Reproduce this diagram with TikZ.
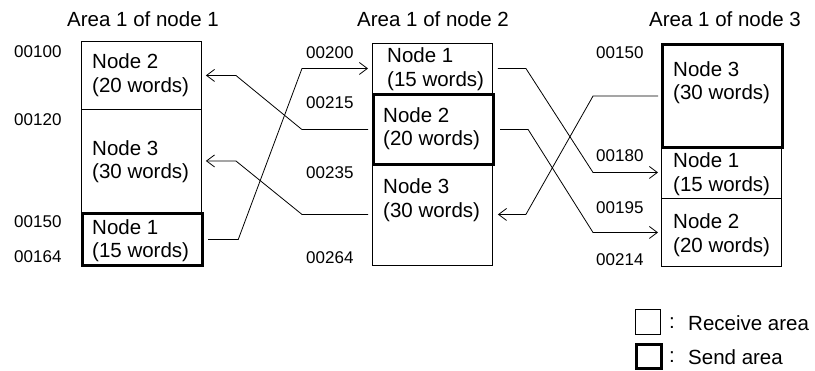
\documentclass[tikz,border=0pt]{standalone}
\usepackage{fontspec}
\setmainfont{Liberation Sans}
\usetikzlibrary{arrows.meta}
\begin{document}
\begin{tikzpicture}[x=1pt,y=-1pt,
  recv/.style={draw, line width=0.9pt, minimum width=120pt, anchor=north west, inner sep=0pt},
  send/.style={recv, line width=3.2pt},
  lbl/.style={font=\fontsize{20.5}{23.5}\selectfont, align=left, anchor=west, inner sep=0pt},
  addr/.style={font=\fontsize{17}{20}\selectfont, anchor=west, inner sep=0pt},
  ttl/.style={font=\fontsize{20.5}{24}\selectfont, inner sep=0pt},
  conn/.style={line width=0.8pt, -{Straight Barb[length=8pt,width=12pt]}}]
\useasboundingbox (0,0) rectangle (815,371);
% titles
\node[ttl] (title1) at (143,19) {Area 1 of node 1};
\node[ttl] (title2) at (433,19) {Area 1 of node 2};
\node[ttl] (title3) at (725,19) {Area 1 of node 3};
% column 1
\node[recv, minimum height=68pt] (c1n2) at (81,41) {};
\node[recv, minimum height=103pt] (c1n3) at (81,109) {};
\node[send, minimum height=52pt] (c1n1) at (81,212) {};
% column 2
\node[recv, minimum height=50pt] (c2n1) at (372,43) {};
\node[recv, minimum height=102pt] (c2n3) at (372,163) {};
\node[send, minimum height=70pt] (c2n2) at (372,93) {};
% column 3
\node[recv, minimum height=52pt] (c3n1) at (661,146) {};
\node[recv, minimum height=68pt] (c3n2) at (661,198) {};
\node[send, minimum height=103pt] (c3n3) at (661,43) {};
% labels
\node[lbl] (t12) at (92,75) {Node 2\\(20 words)};
\node[lbl] (t13) at (92,161.5) {Node 3\\(30 words)};
\node[lbl] (t11) at (92,240.5) {Node 1\\(15 words)};
\node[lbl] (t21) at (387,69) {Node 1\\(15 words)};
\node[lbl] (t22) at (383,128.5) {Node 2\\(20 words)};
\node[lbl] (t23) at (383,200) {Node 3\\(30 words)};
\node[lbl] (t33) at (673,82.5) {Node 3\\(30 words)};
\node[lbl] (t31) at (673,174) {Node 1\\(15 words)};
\node[lbl] (t32) at (673,235) {Node 2\\(20 words)};
% addresses
\node[addr] (a11) at (14,52) {00100};
\node[addr] (a12) at (14,120) {00120};
\node[addr] (a13) at (14,222) {00150};
\node[addr] (a14) at (14,257) {00164};
\node[addr] (a21) at (306,53) {00200};
\node[addr] (a22) at (306,103) {00215};
\node[addr] (a23) at (306,173) {00235};
\node[addr] (a24) at (306,258) {00264};
\node[addr] (a31) at (596,53) {00150};
\node[addr] (a32) at (596,156) {00180};
\node[addr] (a33) at (596,208) {00195};
\node[addr] (a34) at (596,260) {00214};
% connectors
\draw[conn] ([xshift=-4pt]c2n2.west) -- ([xshift=-70pt]c2n2.west) -- ([xshift=34pt]c1n2.east) -- ([xshift=4pt]c1n2.east);
\draw[conn] ([xshift=-4pt]c2n3.west) -- ([xshift=-70pt]c2n3.west) -- ([xshift=34pt]c1n3.east) -- ([xshift=4pt]c1n3.east);
\draw[conn] ([xshift=4pt]c1n1.east) -- ([xshift=34pt]c1n1.east) -- ([xshift=-70pt]c2n1.west) -- ([xshift=-4pt]c2n1.west);
\draw[conn] ([xshift=5pt]c2n1.east) -- ([xshift=33pt]c2n1.east) -- ([xshift=-68pt]c3n1.west) -- ([xshift=-3pt]c3n1.west);
\draw[conn] ([xshift=5pt]c2n2.east) -- ([xshift=33pt]c2n2.east) -- ([xshift=-68pt]c3n2.west) -- ([xshift=-3pt]c3n2.west);
\draw[conn] ([xshift=-3pt]c3n3.west) -- ([xshift=-68pt]c3n3.west) -- ([xshift=33pt]c2n3.east) -- ([xshift=5pt]c2n3.east);
% legend
\node[recv, minimum width=25pt, minimum height=25pt] (lr) at (635,309) {};
\node[send, minimum width=25pt, minimum height=24pt] (ls) at (635,343) {};
\node[ttl] (lrc) at (672,323) {:};
\node[ttl] (lsc) at (672,357) {:};
\node[lbl] (lrt) at (688,323) {Receive area};
\node[lbl] (lst) at (688,357) {Send area};
\end{tikzpicture}
\end{document}
